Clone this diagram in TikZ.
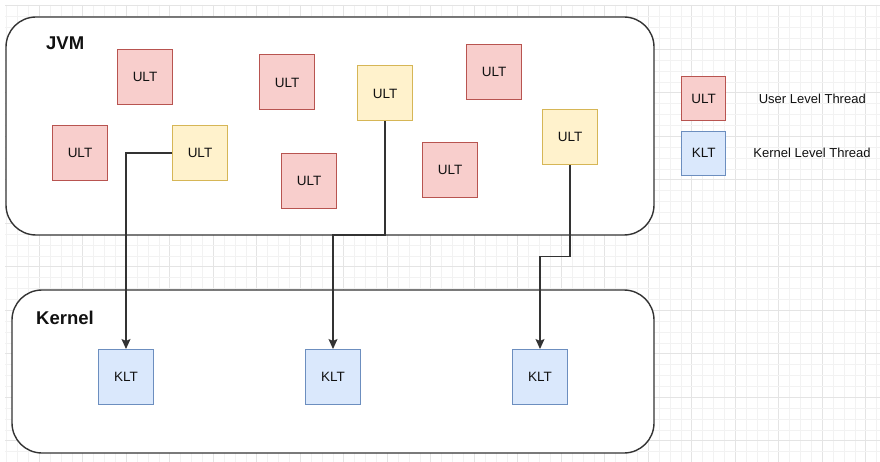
\documentclass[tikz,border=0pt]{standalone}
\usepackage{fontspec}
\setmainfont{Liberation Sans}
\usetikzlibrary{arrows.meta}

\definecolor{ultfill}{HTML}{F8CECC}
\definecolor{ultline}{HTML}{B85450}
\definecolor{actfill}{HTML}{FFF2CC}
\definecolor{actline}{HTML}{D6B656}
\definecolor{kltfill}{HTML}{DAE8FC}
\definecolor{kltline}{HTML}{6C8EBF}
\definecolor{ink}{HTML}{111111}
\definecolor{edge}{HTML}{333333}
\definecolor{gridminor}{HTML}{F2F2F2}
\definecolor{gridmajor}{HTML}{E4E4E4}

\tikzset{
  thread/.style={rectangle, minimum size=55pt, inner sep=0pt, line width=1pt,
                 font=\fontsize{13.5}{16}\selectfont, text=ink},
  ult/.style={thread, fill=ultfill, draw=ultline},
  active/.style={thread, fill=actfill, draw=actline},
  klt/.style={thread, fill=kltfill, draw=kltline},
  legendbox/.style={minimum size=44pt},
  container/.style={draw=edge, fill=white, line width=1.4pt, rounded corners=30pt},
  title/.style={anchor=base west, inner sep=0pt, font=\fontsize{18.5}{22}\selectfont\bfseries, text=ink},
  legendtext/.style={font=\fontsize{13}{15}\selectfont, text=ink},
  conn/.style={draw=edge, line width=1.1pt,
               -{Stealth[length=10pt,width=9pt,inset=2pt]}},
}

\begin{document}
\begin{tikzpicture}[x=1pt, y=-1pt]
  \useasboundingbox[fill=white] (0,0) rectangle (880,462);

  % background grid: minor lines every 10.875, major every fourth
  \foreach \i in {0,...,80} {
    \pgfmathsetmacro{\gx}{6.675+\i*10.875}
    \pgfmathtruncatemacro{\gm}{mod(\i,4)}
    \ifnum\gm=3
      \draw[gridmajor, line width=0.8pt] (\gx,5) -- (\gx,462);
    \else
      \draw[gridminor, line width=0.7pt] (\gx,5) -- (\gx,462);
    \fi
  }
  \foreach \j in {0,...,42} {
    \pgfmathsetmacro{\gy}{5.8+\j*10.875}
    \pgfmathtruncatemacro{\gm}{mod(\j,4)}
    \ifnum\gm=0
      \draw[gridmajor, line width=0.8pt] (5,\gy) -- (880,\gy);
    \else
      \draw[gridminor, line width=0.7pt] (5,\gy) -- (880,\gy);
    \fi
  }

  % containers
  \path[container] (6,17) rectangle (654,235);
  \path[container] (12,290) rectangle (654,453);
  \coordinate (jvmbottom) at (330,235);
  \node[title] (jvmlabel) at (46,49.7) {JVM};
  \node[title] (kernellabel) at (36,324) {Kernel};

  % user level threads
  \node[ult]    (u1) at (145,77)   {ULT};
  \node[ult]    (u2) at (80,153)   {ULT};
  \node[active] (u3) at (200,153)  {ULT};
  \node[ult]    (u4) at (287,82.5) {ULT};
  \node[ult]    (u5) at (309,181)  {ULT};
  \node[active] (u6) at (385,93.5) {ULT};
  \node[ult]    (u7) at (494,72)   {ULT};
  \node[ult]    (u8) at (450,170)  {ULT};
  \node[active] (u9) at (570,137)  {ULT};

  % kernel level threads
  \node[klt] (k1) at (126,377) {KLT};
  \node[klt] (k2) at (333,377) {KLT};
  \node[klt] (k3) at (540,377) {KLT};

  % mappings
  \coordinate (bendC) at (570,256.7);
  \draw[conn] (u3.west) -| (k1.north);
  \draw[conn] (u6.south) -- (u6.south |- jvmbottom) -| (k2.north);
  \draw[conn] (u9.south) -- (bendC) -| (k3.north);

  % legend
  \node[ult, legendbox] (lu) at (703.7,99)    {ULT};
  \node[klt, legendbox] (lk) at (703.7,153.3) {KLT};
  \node[legendtext] (lut) at (812.3,99)  {User Level Thread};
  \node[legendtext] (lkt) at (812,153)   {Kernel Level Thread};
\end{tikzpicture}
\end{document}
